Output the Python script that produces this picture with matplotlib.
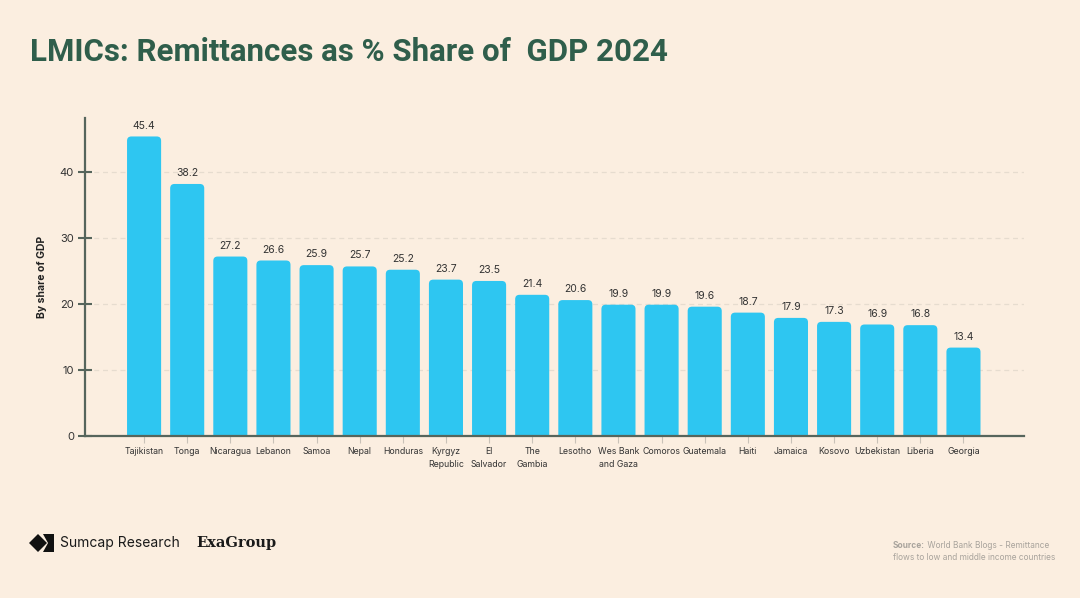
import matplotlib
matplotlib.use("Agg")
import matplotlib.pyplot as plt
from matplotlib.patches import FancyBboxPatch, Polygon

# data
countries = ["Tajikistan", "Tonga", "Nicaragua", "Lebanon", "Samoa", "Nepal",
             "Honduras", "Kyrgyz\nRepublic", "El\nSalvador", "The\nGambia",
             "Lesotho", "Wes Bank\nand Gaza", "Comoros", "Guatemala", "Haiti",
             "Jamaica", "Kosovo", "Uzbekistan", "Liberia", "Georgia"]
share = [45.4, 38.2, 27.2, 26.6, 25.9, 25.7, 25.2, 23.7, 23.5, 21.4,
         20.6, 19.9, 19.9, 19.6, 18.7, 17.9, 17.3, 16.9, 16.8, 13.4]
yticks = [0, 10, 20, 30, 40]

bg = "#FBEEE0"
bar_color = "#2EC6F1"
green = "#2F5E4B"
axis_col = "#56655C"
H = 598

plt.rcParams['font.family'] = ['Inter', 'DejaVu Sans']

fig = plt.figure(figsize=(10.8, 5.98), dpi=100, facecolor=bg)
ax = fig.add_axes([0.0787, 0.2709, 0.8693, 0.5318])
ax.set_facecolor(bg)

x = list(range(len(countries)))
bars = ax.bar(x, share, width=0.79, color=bar_color)

ax.set_xlim(-1.37, 20.4)
ax.set_ylim(0, 48.2)

# swap plain rectangles for rounded ones
x_px = 43.1
y_px = 6.6
for b in bars:
    b.set_visible(False)
    rp = FancyBboxPatch((b.get_x(), -2), b.get_width(), b.get_height() + 2,
                        boxstyle="round,pad=0,rounding_size=0.1",
                        mutation_aspect=x_px / y_px,
                        facecolor=bar_color, edgecolor="none", zorder=2)
    ax.add_patch(rp)

for xi, v in zip(x, share):
    ax.text(xi, v + 0.9, f"{v}", ha="center", va="bottom", fontsize=7.5,
            color="#333333")

ax.set_yticks(yticks)
ax.set_yticklabels([str(t) for t in yticks], fontsize=8, color="#333333")
ax.set_xticks(x)
ax.set_xticklabels(countries, fontsize=6.3, color="#333333", linespacing=1.5)
ax.tick_params(axis="y", direction="inout", length=10, width=1.5, color=axis_col, pad=3)
ax.tick_params(axis="x", direction="out", length=5, width=0.8, color="#C9C2B8", pad=3)

for t in yticks[1:]:
    ax.axhline(t, color="#E6DCCF", lw=0.9, ls=(0, (4, 3)), zorder=1)

for s in ["top", "right"]:
    ax.spines[s].set_visible(False)
for s in ["left", "bottom"]:
    ax.spines[s].set_color(axis_col)
    ax.spines[s].set_linewidth(1.6)

ax.set_ylabel("By share of GDP", fontsize=7.5, fontweight="bold", color="#222222",
              labelpad=9)

fig.text(0.028, 1 - 52 / H, "LMICs: Remittances as % Share of  GDP 2024",
         fontsize=22.5, fontweight="bold", color=green, family=["Roboto", "DejaVu Sans"],
         va="center", ha="left")

# footer logos (pixel coords, origin bottom-left)
logo = Polygon([[29, H - 543], [38, H - 534], [47, H - 543], [38, H - 552]], closed=True,
               transform=None, facecolor="#111111", edgecolor="none")
fig.patches.append(logo)
chev = Polygon([[43, H - 534], [54, H - 534], [54, H - 552], [43, H - 552], [48, H - 543]],
               closed=True, transform=None, facecolor="#111111", edgecolor="none")
fig.patches.append(chev)
fig.text(60 / 1080, 1 - 543 / H, "Sumcap Research", fontsize=10, color="#1A1A1A",
         va="center", ha="left")
fig.text(196 / 1080, 1 - 543 / H, "ExaGroup", fontsize=10.5, fontweight="bold",
         family=["DejaVu Serif"], color="#1A1A1A", va="center", ha="left")

src = fig.text(893 / 1080, 1 - 546 / H, "Source:", fontsize=6, fontweight="bold",
               color="#A8A39C", va="center", ha="left")
ax.annotate(" World Bank Blogs - Remittance", xy=(1, 0.5), xycoords=src,
            fontsize=6, color="#A8A39C", va="center", ha="left",
            annotation_clip=False)
fig.text(893 / 1080, 1 - 557 / H, "flows to low and middle income countries",
         fontsize=6, color="#A8A39C", va="center", ha="left")

fig.savefig("out.png", dpi=100, facecolor=bg)
